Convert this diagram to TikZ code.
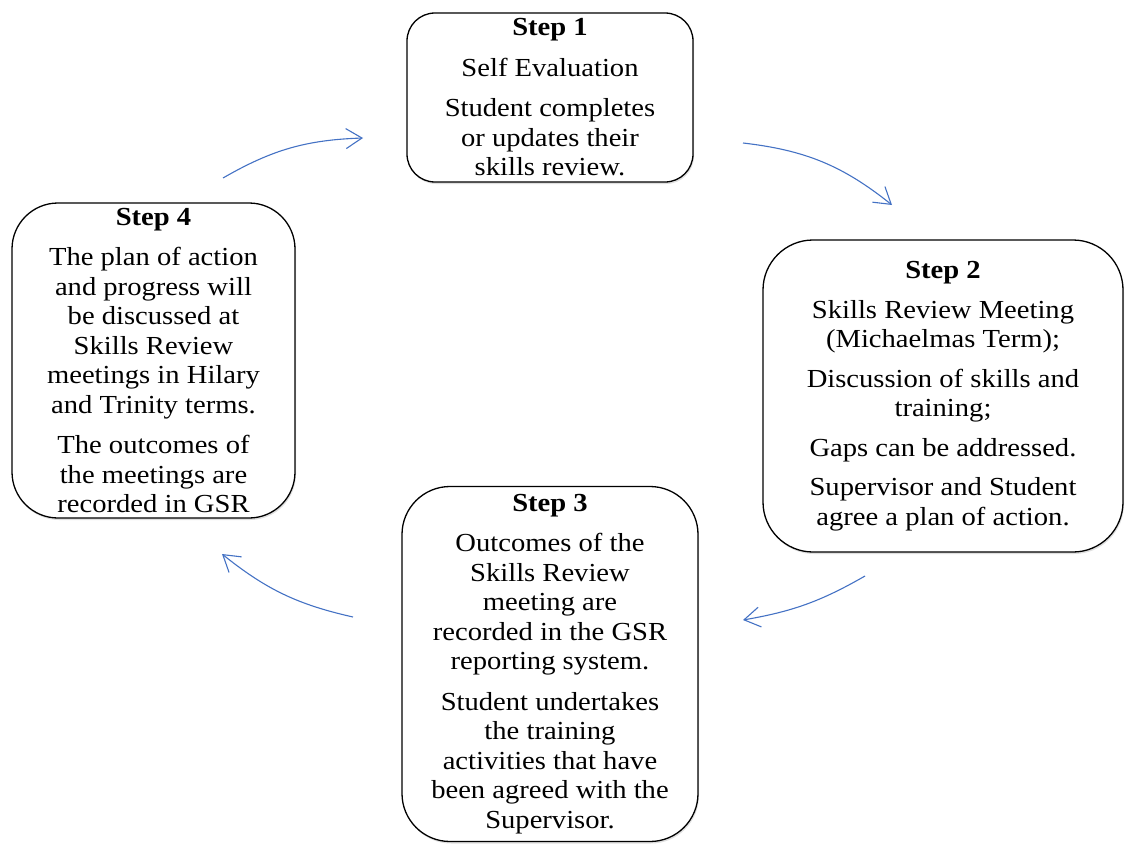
\documentclass[tikz,border=0pt]{standalone}
\usepackage{fontspec}
\setmainfont{Liberation Serif}[FakeStretch=1.1]
\usetikzlibrary{arrows.meta, shadows}
\definecolor{arrowblue}{RGB}{68,114,196}

\begin{document}
\begin{tikzpicture}[
        x=1pt, y=-1pt,
        stepbox/.style={
            rectangle, draw=black, fill=white, line width=1.3pt,
            inner sep=0pt, align=center,
            font=\fontsize{26}{29.5}\selectfont,
            drop shadow={shadow xshift=1pt, shadow yshift=-2pt, opacity=0.25}
        },
        cyclearrow/.style={-{Straight Barb[length=16pt, width=20pt]}, line width=1.1pt, color=arrowblue}
    ]

    \useasboundingbox (0,0) rectangle (1129,843);
    \clip (0,0) rectangle (1129,843);

    % --- Nodes ---
    \node[stepbox, minimum width=286pt, minimum height=169pt, rounded corners=28pt] (step1) at (550,97.5) {
        \textbf{Step 1}\\[11pt]
        Self Evaluation\\[11pt]
        Student completes\\
        or updates their\\
        skills review.
    };

    \node[stepbox, minimum width=360pt, minimum height=312pt, rounded corners=50pt] (step2) at (943,396) {
        \textbf{Step 2}\\[10pt]
        Skills Review Meeting\\
        (Michaelmas Term);\\[10pt]
        Discussion of skills and\\
        training;\\[10pt]
        Gaps can be addressed.\\[10pt]
        Supervisor and Student\\
        agree a plan of action.
    };

    \node[stepbox, minimum width=296pt, minimum height=355pt, rounded corners=48pt] (step3) at (550,664) {
        \textbf{Step 3}\\[11pt]
        Outcomes of the\\
        Skills Review\\
        meeting are\\
        recorded in the GSR\\
        reporting system.\\[11pt]
        Student undertakes\\
        the training\\
        activities that have\\
        been agreed with the\\
        Supervisor.
    };

    \node[stepbox, minimum width=283pt, minimum height=315pt, rounded corners=46pt] (step4) at (153.5,360.5) {
        \textbf{Step 4}\\[11pt]
        The plan of action\\
        and progress will\\
        be discussed at\\
        Skills Review\\
        meetings in Hilary\\
        and Trinity terms.\\[11pt]
        The outcomes of\\
        the meetings are\\
        recorded in GSR
    };

    % --- Arrow ends ---
    \coordinate (a1s) at (223,178);
    \coordinate (a1e) at (363,138);
    \coordinate (a2s) at (743,143);
    \coordinate (a2e) at (892,205);
    \coordinate (a3s) at (865,576);
    \coordinate (a3e) at (743,620);
    \coordinate (a4s) at (353,617);
    \coordinate (a4e) at (222,554);

    % --- Connections ---
    \draw[cyclearrow] (a1s) to[bend left=14] (a1e);
    \draw[cyclearrow] (a2s) to[bend left=16] (a2e);
    \draw[cyclearrow] (a3s) to[bend left=10] (a3e);
    \draw[cyclearrow] (a4s) to[bend left=13] (a4e);

\end{tikzpicture}
\end{document}
